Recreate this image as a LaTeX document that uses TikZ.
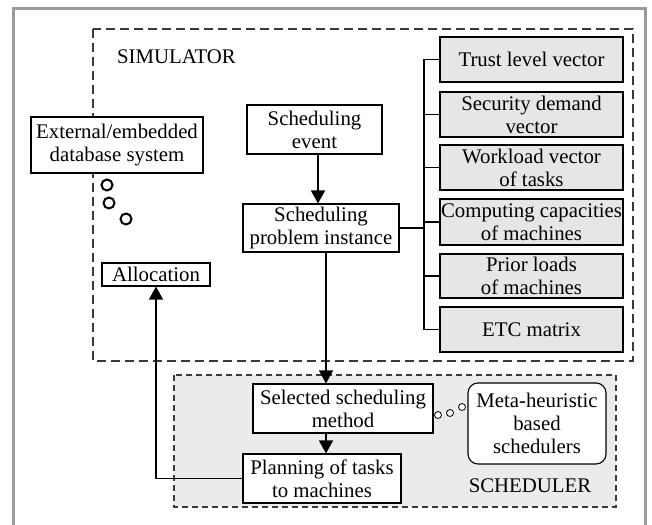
\documentclass[tikz,border=0pt]{standalone}
\usepackage{fontspec}
\setmainfont{Liberation Serif}
\usetikzlibrary{arrows.meta,calc}
\definecolor{boxgray}{HTML}{E6E6E8}
\definecolor{schedgray}{HTML}{EBEBED}
\definecolor{framegray}{HTML}{9A9A9A}
\definecolor{dashgray}{HTML}{3A3A3A}
\tikzset{
  txt/.style={font=\fontsize{20.8}{23}\selectfont},
  bx/.style={draw=black, line width=1.1pt, fill=white, align=center, inner sep=0pt, txt},
  gbx/.style={bx, fill=boxgray},
  arr/.style={line width=1.4pt, -{Triangle[width=14pt,length=13pt]}},
  ln/.style={line width=1.3pt},
  bub/.style={draw=black, line width=2pt, fill=white},
  sbub/.style={draw=black, line width=0.8pt, fill=white},
}
\begin{document}
\begin{tikzpicture}[x=1pt,y=-1pt]
\useasboundingbox (0,0) rectangle (652,524);
% outer frame (open at bottom)
\draw[framegray, line width=3pt] (13.5,530) -- (13.5,8.5) -- (645.5,8.5) -- (645.5,530);
% simulator box
\draw[dashgray, line width=1.1pt, dash pattern=on 9pt off 5pt] (93,29) rectangle (633,361);
\node[txt, anchor=center] (simlabel) at (176.5,57) {SIMULATOR};
% scheduler box
\draw[dashgray, line width=1.1pt, dash pattern=on 6pt off 4pt, fill=schedgray] (174,375) rectangle (616,507);
\node[txt] (schedlabel) at (530,486) {SCHEDULER};

% nodes
\node[bx, line width=2.4pt, minimum width=172pt, minimum height=56pt] (ext) at (117,145) {External/embedded\\database system};
\node[bx, minimum width=135pt, minimum height=49pt] (event) at (314.5,129.5) {Scheduling\\event};
\node[bx, minimum width=156pt, minimum height=48pt] (prob) at (321,228) {Scheduling\\problem instance};
\node[bx, minimum width=108pt, minimum height=23pt] (alloc) at (156,274.5) {Allocation};
\node[bx, minimum width=180pt, minimum height=49pt] (sel) at (343,408.5) {Selected scheduling\\method};
\node[bx, minimum width=158pt, minimum height=49pt] (plan) at (322,478.5) {Planning of tasks\\to machines};
\node[bx, rounded corners=10pt, minimum width=138pt, minimum height=81pt] (meta) at (537,423.5) {Meta-heuristic\\based\\schedulers};

\node[gbx, minimum width=183pt, minimum height=45pt] (r1) at (531.5,59.5) {Trust level vector};
\node[gbx, minimum width=183pt, minimum height=45pt] (r2) at (531.5,114.5) {Security demand\\vector};
\node[gbx, minimum width=183pt, minimum height=45pt] (r3) at (531.5,167.5) {Workload vector\\of tasks};
\node[gbx, minimum width=183pt, minimum height=46pt] (r4) at (531.5,222) {Computing capacities\\of machines};
\node[gbx, minimum width=183pt, minimum height=44pt] (r5) at (531.5,276) {Prior loads\\of machines};
\node[gbx, minimum width=183pt, minimum height=45pt] (r6) at (531.5,329.5) {ETC matrix};

% trunk
\coordinate (tx) at (424,0);
\draw[ln] (tx |- r1.west) -- (tx |- r6.west);
\foreach \n in {r1,r2,r3,r4,r5,r6} { \draw[ln] (tx |- \n.west) -- (\n.west); }
\draw[ln] (prob.east) -- (tx |- prob.east);

% arrows
\coordinate (ax1) at (318,0);
\coordinate (ax2) at (326,0);
\draw[arr] (ax1 |- event.south) -- (ax1 |- prob.north);
\draw[arr] (ax2 |- prob.south) -- (ax2 |- sel.north);
\draw[arr] (ax2 |- sel.south) -- (ax2 |- plan.north);
\draw[arr] (plan.west) -| (alloc.south);

% thought bubbles
\node[bub, circle, minimum size=11pt, inner sep=0pt] (b1) at (107,185) {};
\node[bub, circle, minimum size=11pt, inner sep=0pt] (b2) at (109,203) {};
\node[bub, circle, minimum size=11pt, inner sep=0pt] (b3) at (126,219) {};
\node[sbub, circle, minimum size=7pt, inner sep=0pt] (s1) at (438,415) {};
\node[sbub, circle, minimum size=7pt, inner sep=0pt] (s2) at (450,413) {};
\node[sbub, circle, minimum size=7pt, inner sep=0pt] (s3) at (462,407) {};
\end{tikzpicture}
\end{document}
